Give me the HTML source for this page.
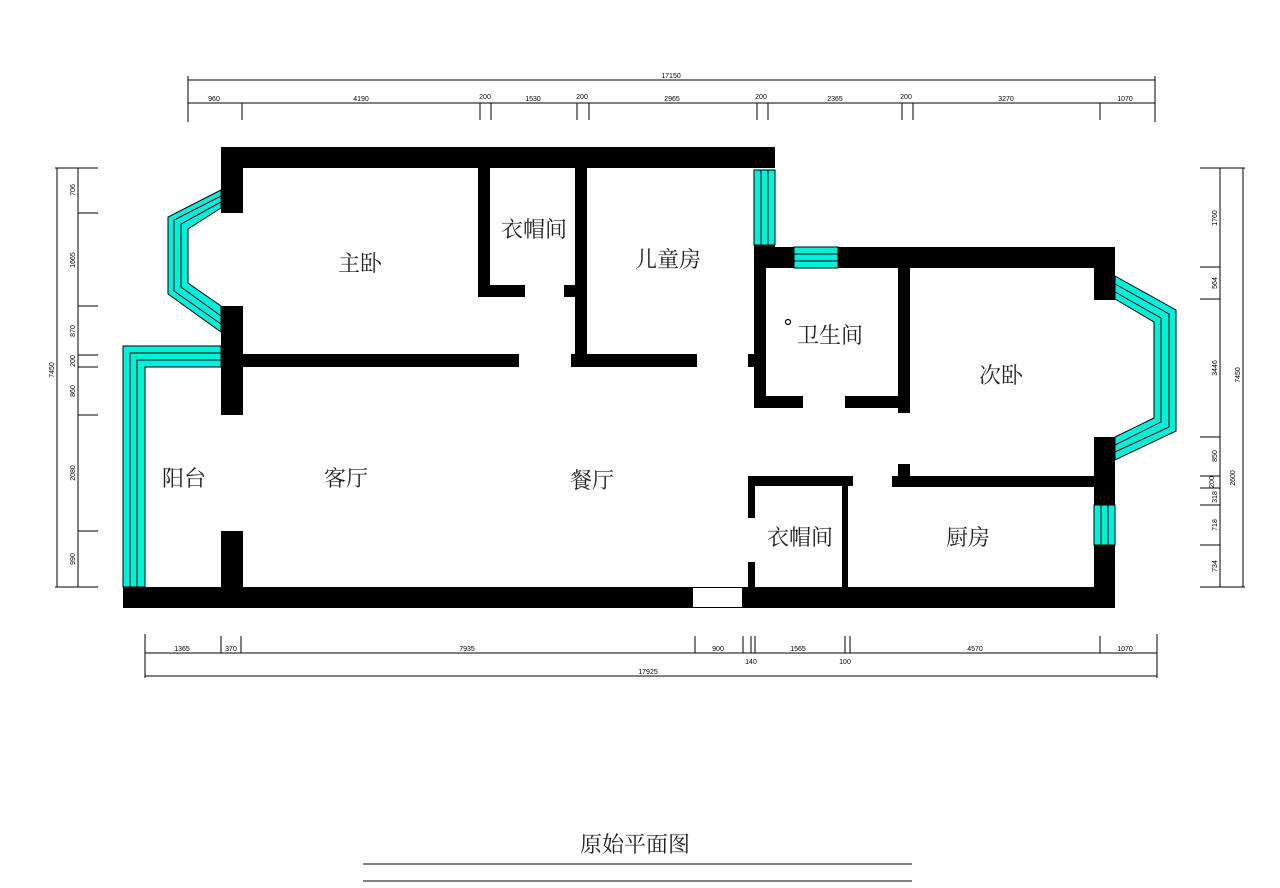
<!DOCTYPE html>
<html><head><meta charset="utf-8"><style>
html,body{margin:0;padding:0;background:#fff;}
svg{display:block;}
.d{font-family:"Liberation Sans",sans-serif;font-size:7px;fill:#000;}
.r{font-family:"Liberation Serif","Noto Serif CJK SC",serif;font-size:22px;fill:#222;}
</style></head><body>
<svg width="1280" height="888" viewBox="0 0 1280 888" xmlns="http://www.w3.org/2000/svg">
<g stroke="#000" stroke-width="1" fill="none">
<!-- top dims -->
<line x1="188" y1="80" x2="1155" y2="80"/>
<line x1="188" y1="103" x2="1155" y2="103"/>
<line x1="188" y1="76" x2="188" y2="122"/><line x1="1155" y1="76" x2="1155" y2="122"/>
<line x1="242" y1="103" x2="242" y2="120"/><line x1="480" y1="103" x2="480" y2="120"/><line x1="491" y1="103" x2="491" y2="120"/>
<line x1="577" y1="103" x2="577" y2="120"/><line x1="589" y1="103" x2="589" y2="120"/><line x1="757" y1="103" x2="757" y2="120"/>
<line x1="768" y1="103" x2="768" y2="120"/><line x1="902" y1="103" x2="902" y2="120"/><line x1="913" y1="103" x2="913" y2="120"/>
<line x1="1100" y1="103" x2="1100" y2="120"/>
<!-- bottom dims -->
<line x1="145" y1="653" x2="1157" y2="653"/>
<line x1="145" y1="676" x2="1157" y2="676"/>
<line x1="145" y1="634" x2="145" y2="678"/><line x1="1157" y1="634" x2="1157" y2="678"/>
<line x1="221" y1="636" x2="221" y2="653"/><line x1="241" y1="636" x2="241" y2="653"/><line x1="695" y1="636" x2="695" y2="653"/>
<line x1="743" y1="636" x2="743" y2="653"/><line x1="751" y1="636" x2="751" y2="653"/><line x1="755" y1="636" x2="755" y2="653"/>
<line x1="845" y1="636" x2="845" y2="653"/><line x1="850" y1="636" x2="850" y2="653"/><line x1="1100" y1="636" x2="1100" y2="653"/>
<!-- left dims -->
<line x1="57" y1="168" x2="57" y2="587"/><line x1="78" y1="168" x2="78" y2="587"/>
<line x1="55" y1="168" x2="98" y2="168"/><line x1="55" y1="587" x2="98" y2="587"/>
<line x1="78" y1="213" x2="98" y2="213"/><line x1="78" y1="306" x2="98" y2="306"/><line x1="78" y1="355" x2="98" y2="355"/>
<line x1="78" y1="367" x2="98" y2="367"/><line x1="78" y1="415" x2="98" y2="415"/><line x1="78" y1="531" x2="98" y2="531"/>
<!-- right dims -->
<line x1="1220" y1="168" x2="1220" y2="587"/><line x1="1243" y1="168" x2="1243" y2="587"/>
<line x1="1200" y1="168" x2="1245" y2="168"/><line x1="1200" y1="587" x2="1245" y2="587"/>
<line x1="1200" y1="267" x2="1220" y2="267"/><line x1="1200" y1="299" x2="1220" y2="299"/><line x1="1200" y1="437" x2="1220" y2="437"/>
<line x1="1200" y1="476" x2="1220" y2="476"/><line x1="1200" y1="488" x2="1220" y2="488"/><line x1="1200" y1="505" x2="1220" y2="505"/>
<line x1="1200" y1="545" x2="1220" y2="545"/>
<!-- title lines -->
<line x1="363" y1="864" x2="912" y2="864"/><line x1="363" y1="881" x2="912" y2="881"/>
</g>
<!-- dim labels -->
<g class="d" text-anchor="middle">
<text x="671" y="78">17150</text>
<text x="214" y="101">960</text><text x="361" y="101">4190</text><text x="485" y="99">200</text><text x="533" y="101">1530</text>
<text x="582" y="99">200</text><text x="672" y="101">2965</text><text x="761" y="99">200</text><text x="835" y="101">2365</text>
<text x="906" y="99">200</text><text x="1006" y="101">3270</text><text x="1125" y="101">1070</text>
<text x="182" y="651">1365</text><text x="231" y="651">370</text><text x="467" y="651">7935</text><text x="718" y="651">900</text>
<text x="798" y="651">1565</text><text x="975" y="651">4570</text><text x="1125" y="651">1070</text>
<text x="751" y="664">140</text><text x="845" y="664">100</text><text x="648" y="674">17925</text>
</g>
<g class="d" text-anchor="middle">
<text transform="translate(75,190) rotate(-90)">706</text>
<text transform="translate(75,260) rotate(-90)">1665</text>
<text transform="translate(75,331) rotate(-90)">870</text>
<text transform="translate(75,361) rotate(-90)">200</text>
<text transform="translate(75,391) rotate(-90)">860</text>
<text transform="translate(75,473) rotate(-90)">2080</text>
<text transform="translate(75,559) rotate(-90)">990</text>
<text transform="translate(54,370) rotate(-90)">7450</text>
<text transform="translate(1217,218) rotate(-90)">1760</text>
<text transform="translate(1217,283) rotate(-90)">564</text>
<text transform="translate(1217,368) rotate(-90)">3446</text>
<text transform="translate(1217,456) rotate(-90)">850</text>
<text transform="translate(1214,482) rotate(-90)">200</text>
<text transform="translate(1217,497) rotate(-90)">318</text>
<text transform="translate(1217,525) rotate(-90)">718</text>
<text transform="translate(1217,566) rotate(-90)">734</text>
<text transform="translate(1235,478) rotate(-90)">2600</text>
<text transform="translate(1240,375) rotate(-90)">7450</text>
</g>
<!-- windows cyan -->
<g fill="#00f0dc" stroke="#000" stroke-width="1">
<path d="M221,190 L168,217 L168,294 L221,332 L221,306 L188,283 L188,229 L221,208 Z"/>
<path d="M221,346 L123,346 L123,587 L145,587 L145,367 L221,367 Z"/>
<path d="M1115,276 L1176,310 L1176,431 L1115,460 L1115,437 L1154,418 L1154,322 L1115,299 Z"/>
<rect x="754" y="170" width="21" height="75"/>
<rect x="794" y="247" width="44" height="21"/>
<rect x="1094" y="505" width="21" height="40"/>
</g>
<g stroke="#000" stroke-width="1" fill="none">
<polyline points="221,196 174,220 174,291 221,324"/>
<polyline points="221,202 181,224 181,287 221,316"/>
<polyline points="221,353 130,353 130,587"/>
<polyline points="221,360 137,360 137,587"/>
<polyline points="1115,284 1169,314 1169,427 1115,452"/>
<polyline points="1115,292 1161,318 1161,422 1115,445"/>
<line x1="761" y1="170" x2="761" y2="245"/><line x1="768" y1="170" x2="768" y2="245"/>
<line x1="794" y1="254" x2="838" y2="254"/><line x1="794" y1="261" x2="838" y2="261"/>
<line x1="1101" y1="505" x2="1101" y2="545"/><line x1="1108" y1="505" x2="1108" y2="545"/>
</g>
<!-- walls -->
<g fill="#000">
<rect x="221" y="147" width="554" height="21"/>
<rect x="221" y="168" width="22" height="45"/>
<rect x="221" y="306" width="22" height="109"/>
<rect x="221" y="531" width="22" height="56"/>
<rect x="123" y="587" width="992" height="21"/>
<rect x="243" y="354" width="276" height="13"/>
<rect x="571" y="354" width="126" height="13"/>
<rect x="748" y="354" width="7" height="13"/>
<rect x="478" y="168" width="12" height="129"/>
<rect x="478" y="285" width="47" height="12"/>
<rect x="564" y="285" width="11" height="12"/>
<rect x="575" y="168" width="12" height="199"/>
<rect x="754" y="245" width="21" height="23"/>
<rect x="754" y="247" width="40" height="21"/>
<rect x="838" y="247" width="277" height="21"/>
<rect x="754" y="268" width="12" height="140"/>
<rect x="754" y="396" width="49" height="12"/>
<rect x="845" y="396" width="65" height="12"/>
<rect x="898" y="268" width="12" height="145"/>
<rect x="1094" y="247" width="21" height="53"/>
<rect x="1094" y="437" width="21" height="68"/>
<rect x="1094" y="545" width="21" height="63"/>
<rect x="892" y="476" width="202" height="11"/>
<rect x="898" y="464" width="12" height="12"/>
<rect x="748" y="476" width="105" height="10"/>
<rect x="748" y="476" width="7" height="42"/>
<rect x="748" y="562" width="7" height="25"/>
<rect x="842" y="486" width="6" height="101"/>
</g>
<rect x="693" y="588" width="49" height="19" fill="#fff"/>
<circle cx="788" cy="322" r="2.5" fill="none" stroke="#000" stroke-width="1.2"/>
<!-- room labels -->
<g class="r" text-anchor="middle">
<text x="360" y="271">主卧</text>
<text x="534" y="237">衣帽间</text>
<text x="668" y="267">儿童房</text>
<text x="830" y="343">卫生间</text>
<text x="1001" y="383">次卧</text>
<text x="184" y="486">阳台</text>
<text x="346" y="486">客厅</text>
<text x="592" y="488">餐厅</text>
<text x="800" y="545">衣帽间</text>
<text x="968" y="545">厨房</text>
<text x="635" y="852">原始平面图</text>
</g>
</svg>
</body></html>
